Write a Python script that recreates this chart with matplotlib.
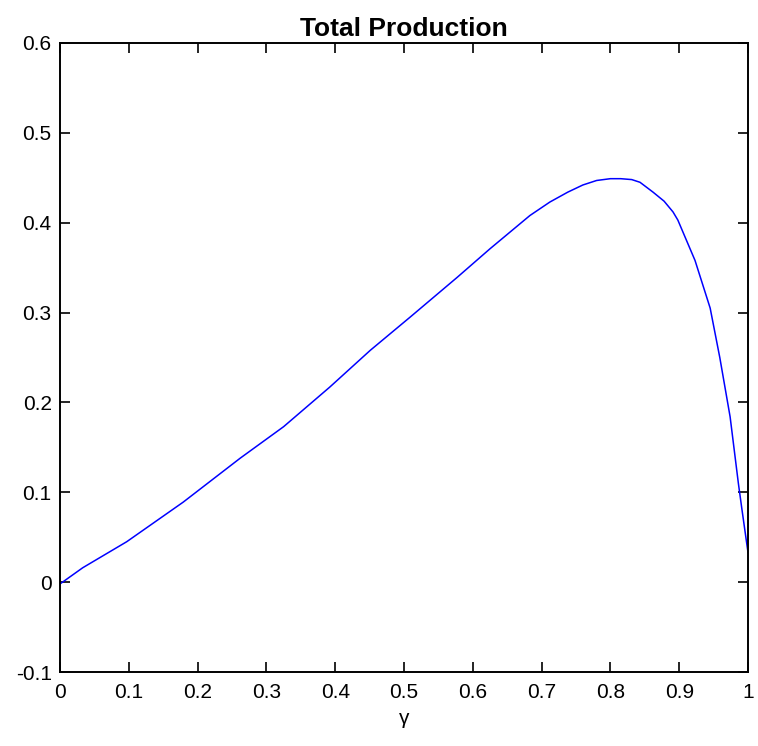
import matplotlib
matplotlib.use("Agg")
import matplotlib.pyplot as plt

# values
gamma = [0.0, 0.033, 0.097, 0.179, 0.262, 0.325, 0.392, 0.451, 0.509, 0.577,
         0.625, 0.683, 0.712, 0.738, 0.760, 0.780, 0.800, 0.815, 0.831, 0.843,
         0.862, 0.878, 0.891, 0.898, 0.923, 0.945, 0.959, 0.974, 0.986, 0.991, 1.0]
production = [-0.002, 0.016, 0.045, 0.089, 0.138, 0.173, 0.217, 0.258, 0.295, 0.339,
              0.371, 0.408, 0.423, 0.434, 0.442, 0.447, 0.449, 0.449, 0.448, 0.445,
              0.434, 0.424, 0.412, 0.403, 0.358, 0.305, 0.250, 0.184, 0.110, 0.082, 0.033]

xticks = [0, 0.1, 0.2, 0.3, 0.4, 0.5, 0.6, 0.7, 0.8, 0.9, 1]
xticklabels = ['0', '0.1', '0.2', '0.3', '0.4', '0.5', '0.6', '0.7', '0.8', '0.9', '1']
yticks = [-0.1, 0, 0.1, 0.2, 0.3, 0.4, 0.5, 0.6]
yticklabels = ['-0.1', '0', '0.1', '0.2', '0.3', '0.4', '0.5', '0.6']

plt.rcParams['font.family'] = ['Liberation Sans', 'DejaVu Sans']

fig = plt.figure(figsize=(7.58, 7.46), dpi=100)
ax = fig.add_axes([60/758, 74/746, 688/758, 629/746])

ax.plot(gamma, production, color='#0000ff', linewidth=1.1)

ax.set_xlim(0, 1)
ax.set_ylim(-0.1, 0.6)
ax.set_xticks(xticks)
ax.set_xticklabels(xticklabels)
ax.set_yticks(yticks)
ax.set_yticklabels(yticklabels)
ax.tick_params(direction='in', length=7, width=1.2, top=True, right=True,
               labelsize=15, pad=8)
ax.tick_params(axis='y', pad=6)
for s in ax.spines.values():
    s.set_linewidth(1.4)

ax.set_title('Total Production', fontsize=19, fontweight='bold', pad=5)
ax.set_xlabel('\u03b3', fontsize=15, labelpad=5)

fig.savefig('out.png', dpi=100)
